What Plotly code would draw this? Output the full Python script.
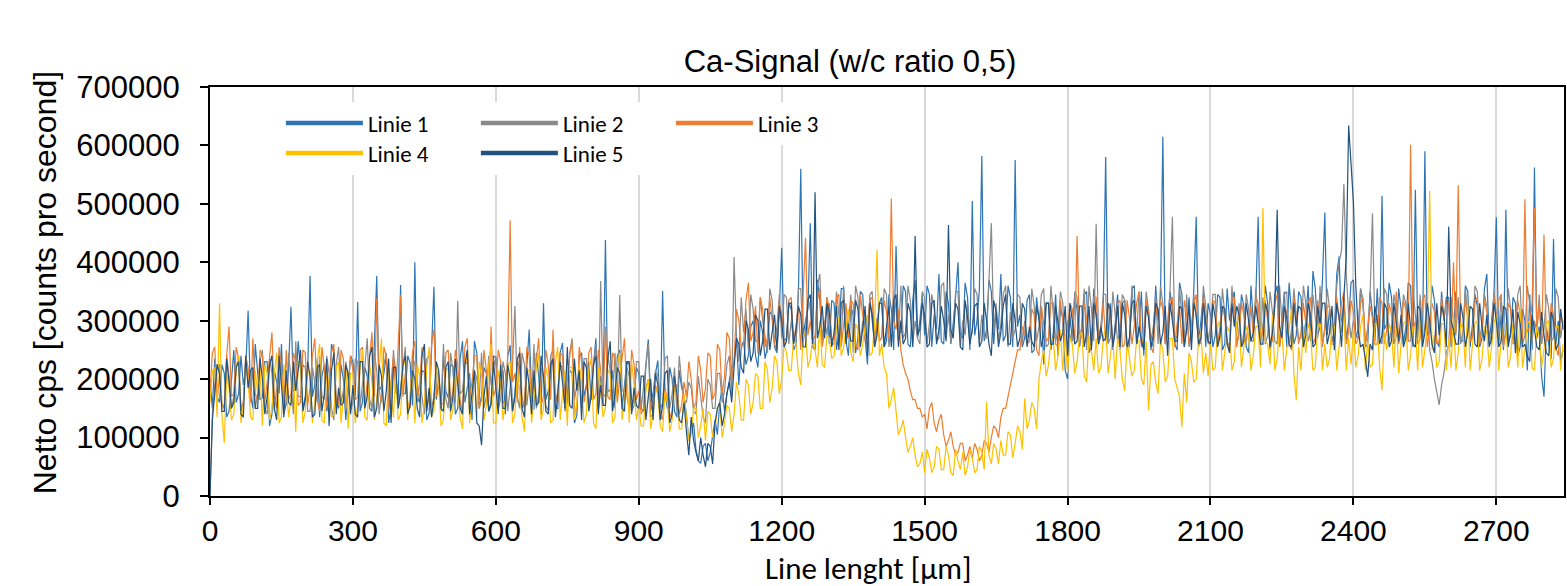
import numpy as np
import plotly.graph_objects as go

# Sample spacing along the measuring line (µm)
step_um = 10

# Values in kcps (thousand counts per second)
# *_k      : readings at 0, 10, 20, ... 2840 µm
# *_mid_k  : readings at 5, 15, 25, ... 2835 µm
linie_1_k = [
    200, 235, 160, 210, 145, 250, 175, 190, 317, 150,
    205, 168, 230, 140, 195, 260, 158, 324, 182, 215,
    170, 377, 190, 135, 225, 165, 248, 150, 200, 178,
    230, 332, 160, 205, 145, 377, 188, 240, 152, 210,
    361, 175, 228, 400, 160, 212, 142, 358, 195, 240,
    168, 222, 150, 265, 185, 130, 245, 172, 210, 155,
    236, 190, 140, 258, 175, 220, 160, 285, 148, 205,
    330, 180, 232, 150, 262, 170, 210, 138, 245, 190,
    165, 270, 205, 438, 180, 150, 250, 195, 225, 160,
    210, 145, 268, 175, 232, 351, 150, 200, 135, 185,
    140, 110, 80, 56, 90, 75, 130, 160, 145, 200,
    230, 190, 265, 240, 300, 220, 280, 255, 310, 245,
    425, 270, 320, 260, 560, 300, 467, 250, 335, 285,
    260, 330, 280, 355, 240, 310, 270, 345, 225, 300,
    290, 340, 265, 320, 428, 280, 350, 255, 370, 300,
    275, 345, 310, 380, 260, 330, 295, 400, 270, 340,
    505, 300, 582, 285, 350, 320, 380, 275, 340, 575,
    310, 270, 345, 250, 300, 225, 330, 280, 240, 305,
    200, 265, 320, 290, 350, 255, 310, 275, 580, 330,
    295, 250, 335, 270, 360, 285, 240, 310, 265, 300,
    615, 280, 320, 250, 345, 290, 265, 478, 300, 255,
    310, 275, 340, 260, 300, 350, 280, 325, 245, 295,
    478, 285, 330, 270, 360, 300, 255, 315, 275, 340,
    300, 265, 355, 290, 485, 320, 280, 410, 340, 300,
    370, 285, 330, 260, 310, 355, 514, 295, 340, 275,
    320, 290, 360, 524, 310, 590, 280, 335, 255, 300,
    340, 280, 310, 265, 350, 295, 325, 270, 380, 300,
    477, 310, 490, 275, 330, 255, 300, 345, 562, 290,
    170, 260, 440, 300, 250,
]
linie_1_mid_k = [
    150, 170, 225, 135, 205, 160, 240, 215, 175, 260,
    165, 230, 120, 215, 175, 140, 220, 180, 265, 150,
    215, 170, 235, 205, 145, 260, 160, 225, 130, 240,
    170, 145, 220, 150, 250, 180, 210, 125, 235, 160,
    175, 240, 155, 170, 215, 130, 250, 165, 145, 180,
    225, 140, 235, 160, 210, 265, 150, 220, 145, 240,
    160, 215, 240, 145, 230, 150, 225, 175, 245, 140,
    165, 220, 150, 245, 160, 215, 125, 240, 170, 230,
    225, 145, 170, 180, 215, 240, 150, 230, 165, 220,
    150, 225, 160, 210, 140, 175, 220, 145, 215, 170,
    95, 125, 60, 85, 60, 100, 105, 185, 175, 220,
    270, 255, 225, 290, 240, 300, 235, 315, 255, 320,
    265, 330, 250, 345, 275, 320, 255, 370, 260, 340,
    335, 250, 355, 265, 325, 245, 350, 270, 340, 260,
    330, 255, 345, 250, 280, 360, 260, 335, 270, 345,
    360, 255, 285, 265, 350, 260, 340, 275, 365, 250,
    275, 355, 265, 370, 260, 285, 265, 360, 255, 290,
    255, 335, 245, 340, 325, 330, 250, 345, 320, 215,
    310, 340, 255, 345, 245, 355, 260, 330, 265, 250,
    345, 330, 250, 355, 260, 350, 335, 250, 360, 340,
    265, 350, 260, 365, 255, 340, 355, 265, 345, 330,
    255, 345, 250, 355, 330, 260, 345, 255, 360, 335,
    270, 360, 250, 345, 255, 350, 365, 260, 350, 265,
    360, 385, 275, 370, 275, 265, 380, 280, 265, 365,
    270, 355, 255, 350, 265, 270, 285, 365, 260, 355,
    260, 365, 255, 280, 265, 275, 360, 265, 350, 340,
    255, 350, 265, 360, 255, 345, 255, 355, 265, 345,
    260, 250, 265, 340, 240, 320, 215, 250, 270, 205,
    290, 235, 260, 230,
]

linie_2_k = [
    0, 190, 225, 150, 205, 170, 240, 160, 195, 215,
    175, 250, 140, 210, 185, 230, 155, 200, 265, 170,
    220, 145, 195, 240, 165, 210, 130, 255, 180, 200,
    160, 230, 190, 270, 150, 215, 175, 245, 135, 205,
    185, 255, 160, 225, 195, 140, 240, 170, 210, 260,
    150, 215, 334, 180, 230, 155, 200, 245, 170, 190,
    240, 165, 210, 185, 325, 150, 225, 195, 260, 175,
    205, 145, 250, 180, 220, 160, 270, 190, 150, 235,
    185, 260, 368, 170, 215, 245, 344, 180, 205, 155,
    230, 190, 260, 165, 205, 150, 240, 175, 145, 195,
    160, 185, 140, 170, 125, 190, 150, 210, 180, 240,
    409, 230, 280, 250, 320, 265, 300, 245, 335, 290,
    270, 340, 300, 260, 355, 285, 320, 250, 380, 300,
    330, 275, 310, 360, 290, 245, 340, 300, 270, 350,
    305, 270, 345, 290, 320, 360, 280, 335, 300, 260,
    340, 295, 320, 270, 365, 310, 285, 350, 300, 330,
    280, 345, 310, 270, 467, 330, 295, 360, 315, 285,
    340, 300, 270, 325, 290, 355, 260, 310, 285, 330,
    300, 265, 340, 295, 250, 320, 466, 290, 345, 270,
    310, 280, 335, 255, 300, 350, 275, 320, 290, 260,
    330, 295, 478, 270, 310, 345, 280, 305, 260, 325,
    290, 345, 270, 310, 255, 300, 330, 280, 320, 265,
    300, 340, 275, 315, 260, 295, 350, 285, 310, 270,
    330, 280, 305, 360, 290, 320, 265, 400, 534, 310,
    300, 270, 335, 285, 484, 310, 260, 345, 290, 320,
    280, 330, 265, 310, 345, 290, 250, 200, 156, 210,
    260, 300, 340, 285, 315, 270, 350, 295, 325, 280,
    310, 345, 280, 320, 290, 360, 275, 330, 300, 345,
    285, 320, 270, 340, 300,
]
linie_2_mid_k = [
    140, 225, 160, 240, 150, 220, 145, 235, 165, 150,
    230, 150, 235, 145, 215, 160, 245, 140, 170, 225,
    145, 220, 160, 170, 240, 150, 225, 160, 230, 145,
    235, 155, 220, 165, 245, 140, 225, 170, 250, 150,
    220, 145, 240, 160, 170, 235, 150, 215, 155, 165,
    245, 160, 175, 225, 145, 215, 165, 150, 240, 220,
    150, 230, 145, 225, 170, 245, 155, 165, 150, 220,
    155, 240, 160, 225, 145, 245, 165, 215, 235, 150,
    225, 150, 175, 240, 160, 165, 180, 220, 145, 230,
    150, 225, 145, 215, 160, 235, 150, 220, 240, 165,
    195, 145, 205, 135, 200, 150, 210, 160, 225, 170,
    275, 340, 320, 345, 265, 340, 275, 355, 260, 345,
    345, 260, 270, 355, 265, 340, 255, 360, 270, 275,
    265, 350, 270, 275, 345, 360, 260, 275, 345, 255,
    270, 355, 255, 345, 265, 270, 360, 260, 270, 350,
    260, 345, 265, 360, 270, 265, 350, 255, 275, 270,
    355, 260, 270, 370, 280, 265, 345, 255, 270, 345,
    260, 275, 355, 265, 345, 255, 360, 265, 350, 255,
    275, 350, 255, 355, 360, 265, 275, 345, 260, 350,
    265, 345, 255, 360, 275, 255, 350, 265, 345, 360,
    260, 350, 275, 355, 270, 255, 345, 270, 360, 265,
    345, 260, 355, 265, 360, 275, 255, 345, 265, 355,
    275, 260, 350, 265, 360, 345, 255, 355, 270, 360,
    265, 345, 270, 255, 355, 265, 360, 420, 380, 270,
    275, 355, 260, 345, 285, 270, 355, 260, 345, 265,
    345, 265, 355, 270, 260, 340, 230, 175, 190, 245,
    340, 275, 260, 355, 265, 360, 265, 345, 260, 350,
    270, 260, 355, 265, 345, 260, 360, 265, 280, 260,
    345, 265, 355, 270,
]

linie_3_k = [
    180, 255, 205, 150, 290, 175, 235, 160, 220, 270,
    165, 240, 195, 280, 150, 215, 250, 175, 230, 160,
    245, 185, 270, 145, 220, 200, 260, 155, 235, 190,
    215, 170, 255, 195, 280, 339, 160, 240, 200, 175,
    344, 210, 150, 265, 190, 230, 170, 285, 205, 160,
    250, 180, 225, 140, 270, 195, 240, 165, 215, 290,
    185, 230, 160, 472, 210, 255, 150, 240, 195, 270,
    170, 225, 285, 160, 240, 200, 265, 145, 230, 185,
    255, 175, 215, 290, 165, 235, 200, 270, 150, 225,
    180, 150, 200, 140, 175, 130, 165, 145, 190, 155,
    170, 200, 160, 215, 185, 240, 175, 250, 205, 270,
    230, 300, 260, 365, 280, 245, 320, 270, 295, 250,
    310, 265, 340, 290, 250, 442, 300, 275, 355, 285,
    320, 260, 345, 295, 270, 330, 250, 310, 285, 340,
    300, 270, 315, 509, 285, 250, 210, 180, 165, 150,
    140, 150, 125, 130, 105, 95, 85, 75, 90, 70,
    65, 80, 70, 90, 100, 115, 135, 150, 190, 230,
    250, 280, 265, 310, 240, 295, 270, 330, 255, 300,
    285, 320, 445, 270, 305, 250, 340, 290, 265, 315,
    280, 335, 260, 305, 290, 350, 270, 315, 245, 300,
    320, 275, 340, 295, 260, 310, 285, 345, 270, 300,
    265, 330, 290, 305, 250, 340, 280, 310, 295, 270,
    330, 285, 300, 265, 345, 290, 315, 250, 305, 280,
    295, 340, 270, 310, 285, 325, 260, 300, 350, 280,
    315, 270, 340, 290, 305, 260, 330, 285, 310, 350,
    280, 320, 601, 300, 270, 345, 290, 315, 265, 300,
    330, 400, 532, 290, 305, 270, 340, 290, 315, 260,
    300, 345, 280, 320, 265, 310, 508, 290, 493, 330,
    447, 270, 310, 240, 290,
]
linie_3_mid_k = [
    245, 165, 155, 240, 170, 255, 150, 240, 160, 175,
    250, 160, 235, 170, 255, 150, 165, 245, 155, 250,
    155, 240, 165, 255, 150, 245, 160, 250, 150, 240,
    165, 250, 155, 240, 170, 180, 255, 150, 240, 250,
    170, 160, 245, 165, 255, 150, 260, 170, 155, 245,
    160, 250, 165, 255, 170, 240, 150, 250, 160, 170,
    250, 160, 245, 195, 160, 170, 255, 160, 240, 155,
    250, 165, 170, 245, 155, 240, 150, 255, 160, 245,
    165, 250, 155, 170, 245, 160, 240, 170, 250, 165,
    140, 185, 135, 190, 140, 185, 135, 190, 140, 195,
    230, 150, 240, 160, 245, 165, 260, 175, 280, 200,
    320, 255, 335, 265, 325, 340, 255, 340, 260, 330,
    260, 335, 265, 325, 345, 275, 265, 335, 255, 340,
    260, 340, 255, 330, 335, 260, 345, 265, 335, 260,
    265, 335, 270, 300, 320, 225, 200, 165, 150, 135,
    115, 160, 110, 140, 85, 110, 70, 90, 60, 85,
    90, 60, 95, 75, 120, 100, 150, 170, 205, 250,
    290, 260, 320, 250, 325, 265, 330, 260, 335, 260,
    330, 260, 275, 330, 255, 340, 260, 330, 325, 260,
    330, 255, 335, 260, 330, 260, 335, 255, 325, 335,
    260, 335, 255, 325, 335, 260, 330, 255, 340, 260,
    335, 260, 325, 260, 340, 255, 330, 265, 325, 340,
    260, 335, 265, 330, 255, 325, 260, 340, 260, 330,
    330, 260, 335, 260, 325, 260, 340, 330, 260, 335,
    260, 330, 255, 325, 260, 340, 260, 330, 265, 260,
    335, 265, 280, 260, 335, 255, 330, 260, 340, 335,
    260, 280, 290, 335, 265, 330, 260, 335, 265, 340,
    335, 255, 330, 260, 335, 265, 280, 330, 280, 260,
    265, 330, 255, 315,
]

linie_4_k = [
    160, 220, 330, 91, 185, 140, 240, 155, 200, 130,
    175, 120, 210, 150, 245, 135, 190, 165, 110, 225,
    145, 200, 160, 260, 125, 185, 140, 230, 170, 115,
    210, 155, 250, 130, 195, 165, 270, 120, 180, 215,
    140, 235, 175, 125, 205, 160, 255, 145, 190, 130,
    220, 150, 185, 115, 240, 170, 135, 205, 155, 260,
    125, 195, 160, 230, 140, 180, 110, 215, 165, 245,
    150, 200, 130, 255, 175, 120, 220, 160, 195, 140,
    235, 115, 180, 150, 210, 135, 245, 165, 125, 190,
    155, 120, 200, 140, 175, 110, 160, 130, 185, 115,
    135, 105, 150, 120, 95, 140, 115, 160, 125, 150,
    140, 175, 130, 190, 160, 205, 150, 215, 185, 230,
    200, 245, 215, 260, 190, 280, 235, 250, 300, 220,
    270, 240, 305, 255, 320, 230, 285, 260, 310, 245,
    421, 260, 210, 165, 140, 115, 100, 85, 70, 55,
    40, 65, 50, 80, 45, 70, 35, 60, 75, 50,
    65, 45, 75, 161, 55, 80, 95, 70, 105, 90,
    110, 167, 130, 150, 200, 250, 225, 270, 240, 215,
    210, 260, 230, 280, 195, 250, 270, 220, 290, 240,
    200, 250, 180, 235, 215, 265, 190, 147, 230, 175,
    250, 205, 270, 185, 118, 160, 230, 200, 280, 245,
    265, 220, 300, 245, 280, 230, 310, 255, 275, 240,
    290, 493, 260, 310, 235, 280, 250, 320, 164, 215,
    245, 280, 220, 300, 260, 235, 290, 250, 310, 270,
    285, 240, 310, 265, 225, 295, 181, 250, 280, 305,
    260, 300, 240, 285, 320, 250, 522, 275, 230, 295,
    270, 310, 245, 290, 330, 260, 300, 235, 280, 255,
    310, 265, 295, 240, 280, 320, 250, 300, 215, 275,
    250, 300, 235, 290, 260,
]
linie_4_mid_k = [
    215, 135, 140, 210, 130, 220, 125, 225, 135, 215,
    220, 225, 130, 210, 125, 225, 135, 215, 230, 125,
    225, 125, 230, 130, 215, 135, 220, 125, 225, 210,
    125, 220, 135, 225, 130, 215, 125, 220, 135, 130,
    220, 130, 215, 225, 125, 220, 135, 225, 120, 215,
    130, 220, 135, 225, 125, 215, 230, 130, 225, 125,
    215, 130, 225, 125, 220, 135, 215, 125, 225, 130,
    220, 125, 230, 130, 215, 220, 130, 225, 125, 215,
    125, 220, 135, 215, 125, 225, 130, 215, 230, 130,
    120, 180, 115, 185, 120, 180, 110, 185, 115, 175,
    95, 150, 100, 150, 145, 100, 150, 100, 155, 110,
    195, 130, 200, 140, 210, 150, 230, 160, 240, 175,
    260, 215, 270, 210, 275, 220, 270, 220, 225, 275,
    235, 290, 240, 290, 245, 295, 240, 290, 240, 295,
    240, 220, 150, 185, 105, 130, 75, 100, 50, 75,
    80, 40, 85, 45, 85, 40, 80, 45, 35, 80,
    40, 85, 45, 70, 90, 55, 70, 110, 65, 120,
    80, 115, 160, 115, 230, 205, 265, 215, 285, 275,
    270, 210, 275, 205, 275, 215, 210, 270, 210, 270,
    270, 200, 265, 205, 270, 200, 265, 225, 195, 265,
    195, 270, 200, 170, 210, 245, 195, 270, 210, 205,
    215, 290, 215, 290, 215, 295, 220, 290, 215, 290,
    220, 265, 225, 215, 290, 215, 290, 210, 255, 290,
    295, 215, 290, 215, 220, 295, 215, 295, 215, 225,
    220, 290, 215, 220, 295, 220, 280, 295, 220, 210,
    295, 215, 290, 215, 220, 295, 250, 220, 295, 215,
    220, 215, 295, 220, 215, 295, 215, 290, 220, 295,
    215, 295, 220, 295, 220, 220, 295, 220, 290, 220,
    295, 220, 290, 215,
]

linie_5_k = [
    0, 175, 210, 145, 195, 160, 230, 135, 185, 220,
    150, 200, 170, 240, 130, 190, 215, 155, 180, 250,
    165, 205, 140, 225, 175, 120, 245, 185, 160, 210,
    190, 135, 230, 170, 255, 150, 205, 180, 125, 220,
    175, 240, 155, 200, 135, 260, 185, 165, 215, 145,
    230, 170, 195, 140, 250, 175, 125, 87, 205, 160,
    185, 225, 150, 200, 170, 245, 135, 190, 215, 160,
    205, 140, 235, 175, 195, 255, 150, 180, 130, 220,
    170, 240, 190, 155, 265, 175, 210, 145, 230, 185,
    150, 205, 170, 130, 190, 155, 215, 140, 175, 125,
    110, 135, 75, 100, 50, 85, 125, 160, 140, 195,
    220, 260, 210, 285, 245, 300, 265, 320, 280, 250,
    300, 265, 330, 285, 310, 255, 345, 520, 290, 270,
    315, 280, 250, 335, 295, 265, 320, 285, 240, 310,
    275, 330, 290, 255, 345, 300, 270, 315, 445, 285,
    310, 260, 335, 285, 300, 464, 270, 320, 250, 305,
    285, 330, 265, 300, 240, 315, 280, 345, 260, 300,
    270, 320, 290, 255, 305, 275, 330, 260, 295, 280,
    240, 300, 265, 325, 280, 250, 310, 290, 270, 320,
    285, 255, 310, 270, 335, 290, 250, 305, 275, 320,
    280, 240, 300, 265, 320, 285, 250, 310, 270, 295,
    260, 305, 275, 320, 245, 290, 310, 265, 300, 280,
    295, 260, 315, 280, 490, 270, 305, 255, 290, 320,
    275, 310, 260, 295, 330, 280, 250, 305, 340, 634,
    503, 285, 260, 204, 250, 300, 275, 320, 265, 295,
    310, 270, 290, 255, 320, 280, 300, 245, 275, 310,
    461, 285, 260, 305, 280, 320, 255, 290, 310, 270,
    300, 265, 320, 280, 245, 295, 260, 230, 285, 250,
    275, 240, 300, 260, 285,
]
linie_5_mid_k = [
    130, 225, 145, 235, 150, 220, 140, 240, 215, 150,
    235, 140, 225, 150, 240, 135, 160, 230, 220, 145,
    230, 135, 220, 145, 235, 215, 140, 155, 225, 140,
    140, 230, 150, 240, 135, 225, 145, 235, 220, 150,
    225, 140, 215, 150, 240, 145, 135, 230, 150, 220,
    145, 235, 150, 225, 140, 215, 120, 170, 145, 230,
    140, 150, 225, 145, 235, 150, 220, 140, 155, 240,
    145, 225, 135, 230, 150, 155, 235, 215, 230, 145,
    225, 140, 155, 235, 145, 220, 150, 230, 140, 155,
    205, 130, 200, 210, 130, 210, 125, 205, 130, 160,
    70, 95, 60, 70, 90, 55, 150, 120, 175, 160,
    270, 220, 300, 230, 310, 240, 320, 250, 310, 325,
    255, 330, 260, 325, 255, 335, 260, 270, 325, 330,
    255, 325, 330, 260, 265, 335, 255, 325, 330, 255,
    330, 255, 325, 335, 255, 260, 330, 255, 275, 330,
    255, 330, 260, 325, 265, 285, 330, 255, 335, 260,
    325, 255, 330, 260, 335, 255, 325, 260, 330, 255,
    330, 255, 265, 325, 255, 330, 260, 325, 265, 325,
    330, 260, 325, 255, 325, 330, 260, 265, 330, 255,
    325, 330, 255, 330, 260, 265, 325, 255, 330, 260,
    325, 330, 265, 325, 255, 325, 330, 260, 330, 265,
    330, 255, 325, 260, 330, 325, 255, 330, 265, 325,
    260, 330, 255, 325, 290, 325, 260, 330, 325, 255,
    330, 255, 325, 330, 260, 325, 330, 255, 410, 560,
    360, 255, 235, 260, 325, 260, 330, 255, 330, 265,
    255, 330, 260, 325, 255, 330, 260, 330, 325, 255,
    300, 260, 330, 255, 325, 260, 330, 265, 255, 330,
    255, 325, 255, 320, 315, 255, 240, 310, 255, 315,
    245, 315, 250, 320,
]

series_names = ["Linie 1", "Linie 2", "Linie 3", "Linie 4", "Linie 5"]
series_main = [linie_1_k, linie_2_k, linie_3_k, linie_4_k, linie_5_k]
series_mid = [linie_1_mid_k, linie_2_mid_k, linie_3_mid_k, linie_4_mid_k, linie_5_mid_k]
series_colors = ["#2E75B6", "#8A8A8A", "#ED7D31", "#FFC000", "#22527F"]
legend_of = ["legend", "legend", "legend", "legend2", "legend2"]

x_ticks = [0, 300, 600, 900, 1200, 1500, 1800, 2100, 2400, 2700]
y_ticks = [0, 100000, 200000, 300000, 400000, 500000, 600000, 700000]


def merged(main, mid):
    pts = [(step_um * i, v) for i, v in enumerate(main)]
    pts += [(step_um * i + step_um / 2, v) for i, v in enumerate(mid)]
    pts.sort(key=lambda p: p[0])
    xs = [p[0] for p in pts]
    ys = np.array([p[1] for p in pts], dtype=float) * 1000.0
    return xs, ys


fig = go.Figure()

for name, main, mid, col in zip(series_names, series_main, series_mid, series_colors):
    xs, ys = merged(main, mid)
    fig.add_trace(go.Scatter(x=xs, y=ys, mode="lines", name=name,
                             line=dict(color=col, width=1.2),
                             showlegend=False, hoverinfo="skip"))

# legend entries (thick swatches like the original)
for name, col, lg in zip(series_names, series_colors, legend_of):
    fig.add_trace(go.Scatter(x=[None], y=[None], mode="lines", name=name,
                             line=dict(color=col, width=4.5), legend=lg,
                             showlegend=True))

W, H = 1567, 586
L, R, T, B = 210, 1, 87, 90
pw, ph = W - L - R, H - T - B


def px_x(p):
    return (p - L) / pw


def px_y(p):
    return (H - B - p) / ph


legend_font = dict(family="Carlito, Lato, sans-serif", size=23, color="#000000")
legend_common = dict(orientation="h", xanchor="left", yanchor="middle",
                     bgcolor="white", borderwidth=0, font=legend_font,
                     itemwidth=77, entrywidth=103, entrywidthmode="pixels",
                     itemclick=False)

fig.update_layout(
    width=W, height=H,
    margin=dict(l=L, r=R, t=T, b=B),
    paper_bgcolor="white", plot_bgcolor="white",
    title=dict(text="Ca-Signal (w/c ratio 0,5)",
               font=dict(family="Liberation Sans, Arial, sans-serif", size=31, color="#000000"),
               x=850 / W, xref="container", xanchor="center",
               y=1 - 61 / H, yref="container", yanchor="middle"),
    xaxis=dict(range=[0, 2842], tickmode="array", tickvals=x_ticks,
               ticktext=[str(v) for v in x_ticks],
               showgrid=True, gridcolor="#D9D9D9", gridwidth=1.5,
               showline=True, linecolor="#000000", linewidth=2, mirror=True,
               ticks="outside", ticklen=7, tickwidth=2, tickcolor="#000000",
               tickfont=dict(family="Liberation Sans Narrow, Arial Narrow, Liberation Sans, sans-serif",
                             size=30, color="#000000"),
               zeroline=False),
    yaxis=dict(range=[0, 700000], tickmode="array", tickvals=y_ticks,
               ticktext=[str(v) for v in y_ticks],
               showgrid=False,
               showline=True, linecolor="#000000", linewidth=2, mirror=True,
               ticks="outside", ticklen=8, tickwidth=1.5, tickcolor="#000000",
               ticklabelstandoff=14,
               tickfont=dict(family="Liberation Sans, Arial, sans-serif", size=31, color="#000000"),
               zeroline=False),
    legend=dict(x=px_x(281), y=px_y(123), **legend_common),
    legend2=dict(x=px_x(281), y=px_y(153), **legend_common),
    annotations=[
        dict(text="Netto cps [counts pro second]", textangle=-90,
             x=px_x(45), y=px_y(283), xref="paper", yref="paper",
             xanchor="center", yanchor="middle", showarrow=False,
             font=dict(family="Liberation Sans, Arial, sans-serif", size=32, color="#000000")),
        dict(text="Line lenght [µm]",
             x=px_x(869), y=px_y(568), xref="paper", yref="paper",
             xanchor="center", yanchor="middle", showarrow=False,
             font=dict(family="Carlito, Lato, sans-serif", size=31, color="#000000")),
    ],
)

fig.write_html("out.html")
